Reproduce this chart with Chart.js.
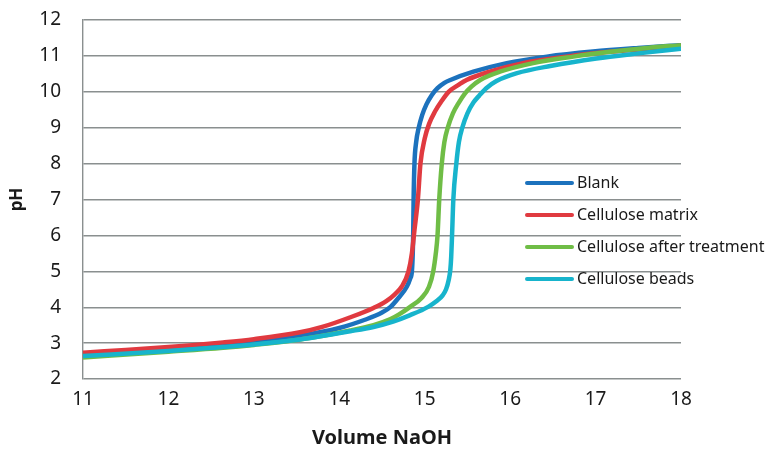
<!DOCTYPE html>
<html>
<head>
<meta charset="utf-8">
<script src="https://cdn.jsdelivr.net/npm/chart.js@4"></script>
<style>
  html, body { margin: 0; padding: 0; background: #fff; }
  #wrap { width: 775px; height: 450px; }
</style>
</head>
<body>
<div id="wrap"><canvas id="titration"></canvas></div>
<script>
// titration curves, volume of NaOH vs pH
const seriesNames = ["Blank", "Cellulose matrix", "Cellulose after treatment", "Cellulose beads"];
const seriesColors = ["#1c72bd", "#e03a40", "#6fbd46", "#17b4cc"];

const blankVol = [11.0, 12.0, 13.0, 13.54, 14.0, 14.3, 14.5, 14.6, 14.69, 14.79, 14.83, 14.85, 14.86, 14.865, 14.87, 14.88, 14.9, 14.93, 14.97, 15.02, 15.08, 15.15, 15.23, 15.3, 15.57, 15.96, 16.43, 16.97, 17.5, 18.0];
const blankPH = [2.68, 2.83, 3.03, 3.2, 3.42, 3.65, 3.85, 4.01, 4.25, 4.57, 4.8, 5.0, 5.5, 6.0, 7.0, 8.0, 8.6, 9.0, 9.35, 9.65, 9.9, 10.1, 10.25, 10.33, 10.56, 10.8, 10.98, 11.12, 11.22, 11.3];

const matrixVol = [11.0, 11.5, 12.0, 12.64, 13.0, 13.54, 13.8, 14.13, 14.4, 14.55, 14.65, 14.73, 14.81, 14.85, 14.88, 14.92, 14.95, 15.0, 15.05, 15.12, 15.2, 15.28, 15.4, 15.49, 15.76, 16.15, 16.66, 17.2, 17.6, 18.0];
const matrixPH = [2.73, 2.81, 2.89, 3.02, 3.11, 3.3, 3.45, 3.72, 3.98, 4.17, 4.36, 4.57, 5.0, 5.5, 6.15, 7.0, 8.0, 8.7, 9.1, 9.45, 9.75, 10.0, 10.2, 10.33, 10.56, 10.8, 10.98, 11.12, 11.2, 11.28];

const treatedVol = [11.0, 12.0, 12.64, 13.0, 13.54, 14.13, 14.4, 14.6, 14.7, 14.83, 14.96, 15.05, 15.1, 15.13, 15.15, 15.17, 15.2, 15.23, 15.27, 15.33, 15.4, 15.47, 15.55, 15.65, 15.88, 16.27, 16.74, 17.2, 17.6, 18.0];
const treatedPH = [2.6, 2.76, 2.87, 2.95, 3.1, 3.35, 3.5, 3.67, 3.8, 4.01, 4.25, 4.57, 5.0, 5.5, 6.0, 7.0, 8.0, 8.6, 9.0, 9.4, 9.7, 9.95, 10.15, 10.33, 10.56, 10.8, 10.98, 11.12, 11.22, 11.3];

const beadsVol = [11.0, 12.0, 12.64, 13.0, 13.54, 14.13, 14.4, 14.63, 14.83, 15.04, 15.14, 15.21, 15.25, 15.28, 15.3, 15.31, 15.32, 15.335, 15.37, 15.4, 15.44, 15.5, 15.57, 15.64, 15.72, 15.84, 16.08, 16.47, 17.01, 17.5, 18.0];
const beadsPH = [2.64, 2.78, 2.89, 2.96, 3.1, 3.33, 3.45, 3.6, 3.78, 4.01, 4.17, 4.33, 4.5, 4.75, 5.05, 5.4, 6.0, 7.0, 8.0, 8.6, 9.0, 9.4, 9.7, 9.9, 10.1, 10.3, 10.52, 10.72, 10.93, 11.07, 11.2];

const xTicks = [11, 12, 13, 14, 15, 16, 17, 18];
const yTicks = [2, 3, 4, 5, 6, 7, 8, 9, 10, 11, 12];

const FONT = "'Noto Sans', 'Liberation Sans', sans-serif";

function pairs(xs, ys) {
  return xs.map((x, i) => ({ x: x, y: ys[i] }));
}

const allSeries = [
  pairs(blankVol, blankPH),
  pairs(matrixVol, matrixPH),
  pairs(treatedVol, treatedPH),
  pairs(beadsVol, beadsPH),
];

// legend sits inside the plot, to the right of the curves
const insideLegend = {
  id: "insideLegend",
  afterDraw(chart) {
    const ctx = chart.ctx;
    const x0 = 527, x1 = 572, top = 183, step = 32;
    ctx.save();
    chart.data.datasets.forEach((ds, i) => {
      const y = top + i * step;
      ctx.strokeStyle = ds.borderColor;
      ctx.lineWidth = 4;
      ctx.lineCap = "round";
      ctx.beginPath();
      ctx.moveTo(x0, y);
      ctx.lineTo(x1, y);
      ctx.stroke();
      ctx.fillStyle = "#1a1a1a";
      ctx.font = "16px " + FONT;
      ctx.textBaseline = "middle";
      ctx.textAlign = "left";
      ctx.fillText(ds.label, x1 + 5, y);
    });
    ctx.restore();
  },
};

new Chart(document.getElementById("titration"), {
  type: "line",
  data: {
    datasets: allSeries.map((data, i) => ({
      label: seriesNames[i],
      data: data,
      borderColor: seriesColors[i],
      backgroundColor: seriesColors[i],
      borderWidth: 4.5,
      pointRadius: 0,
      cubicInterpolationMode: "monotone",
      order: 4 - i,
    })),
  },
  options: {
    responsive: true,
    maintainAspectRatio: false,
    animation: false,
    layout: { padding: { top: 20, right: 94, left: 0, bottom: 0 } },
    plugins: { legend: { display: false }, tooltip: { enabled: false } },
    scales: {
      x: {
        type: "linear",
        min: 11,
        max: 18,
        afterBuildTicks: (scale) => { scale.ticks = xTicks.map(v => ({ value: v })); },
        afterFit: (scale) => { scale.height = 71; },
        grid: { display: false, drawTicks: false },
        border: { display: false },
        ticks: { color: "#1a1a1a", font: { family: FONT, size: 19 }, padding: 9 },
        title: { display: true, text: "Volume NaOH", color: "#1a1a1a", font: { family: FONT, size: 20, weight: "bold" }, padding: { top: 0, bottom: 0 } },
      },
      y: {
        type: "linear",
        min: 2,
        max: 12,
        afterBuildTicks: (scale) => { scale.ticks = yTicks.map(v => ({ value: v })); },
        afterFit: (scale) => {
          scale.width = 83;
          // keep the label gap from pushing the plot down
          scale.paddingTop = 0;
          scale.paddingBottom = 0;
        },
        grid: { color: "#8a8f8f", lineWidth: 1.4, drawTicks: false },
        border: { display: true, color: "#8a8f8f", width: 1.4 },
        ticks: { color: "#1a1a1a", font: { family: FONT, size: 19 }, padding: 22 },
        title: { display: true, text: "pH", color: "#1a1a1a", font: { family: FONT, size: 17, weight: "bold" }, padding: { top: 7, bottom: 0 } },
      },
    },
  },
  plugins: [insideLegend],
});
</script>
</body>
</html>
